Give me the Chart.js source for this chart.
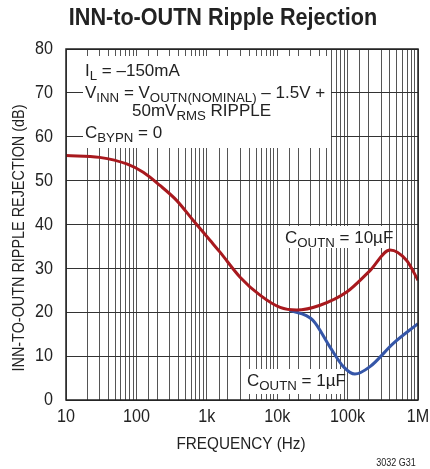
<!DOCTYPE html>
<html>
<head>
<meta charset="utf-8">
<script src="https://cdn.jsdelivr.net/npm/chart.js@4/dist/chart.umd.min.js"></script>
<style>
  html, body { margin: 0; padding: 0; background: #fff; }
  #wrap { width: 430px; height: 469px; }
</style>
</head>
<body>
<div id="wrap"><canvas id="chart" width="430" height="469"></canvas></div>
<script>
// values (Hz, dB)
var freq10u = [10, 30, 73, 125, 216, 372, 643, 1110, 1540, 2970, 5700, 11000, 18900, 40600, 97000, 208000, 400000, 690000, 1000000];
var rej10u  = [55.7, 55.3, 53.8, 51.9, 48.9, 45.5, 40.9, 36.4, 33.7, 28.0, 23.9, 21.1, 20.5, 21.6, 24.6, 29.5, 34.2, 31.8, 27.3];
var freq1u  = [15000, 32000, 56000, 87000, 127000, 208000, 446000, 1000000];
var rej1u   = [20.5, 18.2, 12.1, 7.6, 5.9, 7.6, 12.9, 17.4];
var xTickValues = [10, 100, 1000, 10000, 100000, 1000000];
var xTickLabels = ["10", "100", "1k", "10k", "100k", "1M"];
var yTickValues = [0, 10, 20, 30, 40, 50, 60, 70, 80];

var FONT = '"Liberation Sans", Arial, sans-serif';

function pts(xs, ys) {
  return xs.map(function(x, i) { return {x: x, y: ys[i]}; });
}

// squeezed text, the original uses a narrow face
function txt(ctx, s, x, y, font, sx, align) {
  ctx.save();
  ctx.translate(x, y);
  ctx.scale(sx, 1);
  ctx.font = font;
  ctx.textAlign = align || "center";
  ctx.textBaseline = "middle";
  ctx.fillText(s, 0, 0);
  ctx.restore();
}

// draws text with subscripts, parts = [[text, isSub], ...]
function rich(ctx, x, y, parts, size) {
  ctx.textAlign = "left";
  ctx.textBaseline = "alphabetic";
  parts.forEach(function(p) {
    var s = p[1] ? size * 0.78 : size;
    ctx.font = s + "px " + FONT;
    ctx.fillText(p[0], x, p[1] ? y + 4 : y);
    x += ctx.measureText(p[0]).width;
  });
  return x;
}

var decor = {
  id: "decor",
  beforeDatasetsDraw: function(chart) {
    var ctx = chart.ctx;
    ctx.save();
    ctx.fillStyle = "#fff";
    // white label backgrounds, grid stubs left showing at the edges
    ctx.fillRect(83, 56, 248, 92);
    ctx.fillRect(283, 226, 106, 22);
    ctx.fillRect(244, 369, 97, 25);
    ctx.restore();
  },
  afterDraw: function(chart) {
    var ctx = chart.ctx, a = chart.chartArea;
    var xs = chart.scales.x, ys = chart.scales.y;
    ctx.save();
    ctx.strokeStyle = "#222";
    ctx.lineWidth = 1.5;
    ctx.strokeRect(a.left, a.top, a.right - a.left, a.bottom - a.top);

    ctx.fillStyle = "#222";
    var tickFont = "19px " + FONT;
    xTickValues.forEach(function(v, i) {
      txt(ctx, xTickLabels[i], xs.getPixelForValue(v), a.bottom + 17, tickFont, 0.85);
    });
    yTickValues.forEach(function(v) {
      txt(ctx, String(v), a.left - 13, ys.getPixelForValue(v), tickFont, 0.85, "right");
    });

    txt(ctx, "INN-to-OUTN Ripple Rejection", 223, 18, "bold 24px " + FONT, 0.9);
    txt(ctx, "FREQUENCY (Hz)", 241, 444, "17px " + FONT, 0.9);
    txt(ctx, "3032 G31", 396, 463, "10px " + FONT, 0.9);

    ctx.save();
    ctx.translate(20, 238);
    ctx.rotate(-Math.PI / 2);
    txt(ctx, "INN-TO-OUTN RIPPLE REJECTION (dB)", 0, 0, "16px " + FONT, 0.9);
    ctx.restore();

    rich(ctx, 85, 76, [["I", 0], ["L", 1], [" = \u2013150mA", 0]], 17);
    rich(ctx, 85, 98, [["V", 0], ["INN", 1], [" = V", 0], ["OUTN(NOMINAL)", 1], [" \u2013 1.5V +", 0]], 17);
    rich(ctx, 132, 116, [["50mV", 0], ["RMS", 1], [" RIPPLE", 0]], 17);
    rich(ctx, 85, 138, [["C", 0], ["BYPN", 1], [" = 0", 0]], 17);
    rich(ctx, 285, 243, [["C", 0], ["OUTN", 1], [" = 10\u00b5F", 0]], 17);
    rich(ctx, 247, 386, [["C", 0], ["OUTN", 1], [" = 1\u00b5F", 0]], 17);
    ctx.restore();
  }
};

new Chart(document.getElementById("chart"), {
  type: "line",
  data: {
    datasets: [
      { label: "COUTN = 10uF", data: pts(freq10u, rej10u), borderColor: "#a8191e", borderWidth: 3, pointRadius: 0, cubicInterpolationMode: "monotone", order: 1 },
      { label: "COUTN = 1uF", data: pts(freq1u, rej1u), borderColor: "#3556a8", borderWidth: 3, pointRadius: 0, cubicInterpolationMode: "monotone", order: 2 }
    ]
  },
  options: {
    responsive: false,
    animation: false,
    layout: { padding: { top: 49, right: 12, left: 0, bottom: 0 } },
    plugins: { legend: { display: false }, tooltip: { enabled: false } },
    scales: {
      x: {
        type: "logarithmic",
        min: 10, max: 1000000,
        afterFit: function(s) { s.height = 69; },
        grid: { color: "#555", lineWidth: 1, drawTicks: false },
        border: { display: false },
        ticks: { display: false, autoSkip: false }
      },
      y: {
        min: 0, max: 80,
        afterFit: function(s) { s.width = 66; },
        grid: { color: "#333", lineWidth: 1, drawTicks: false },
        border: { display: false },
        ticks: { display: false, stepSize: 10 }
      }
    }
  },
  plugins: [decor]
});
</script>
</body>
</html>
